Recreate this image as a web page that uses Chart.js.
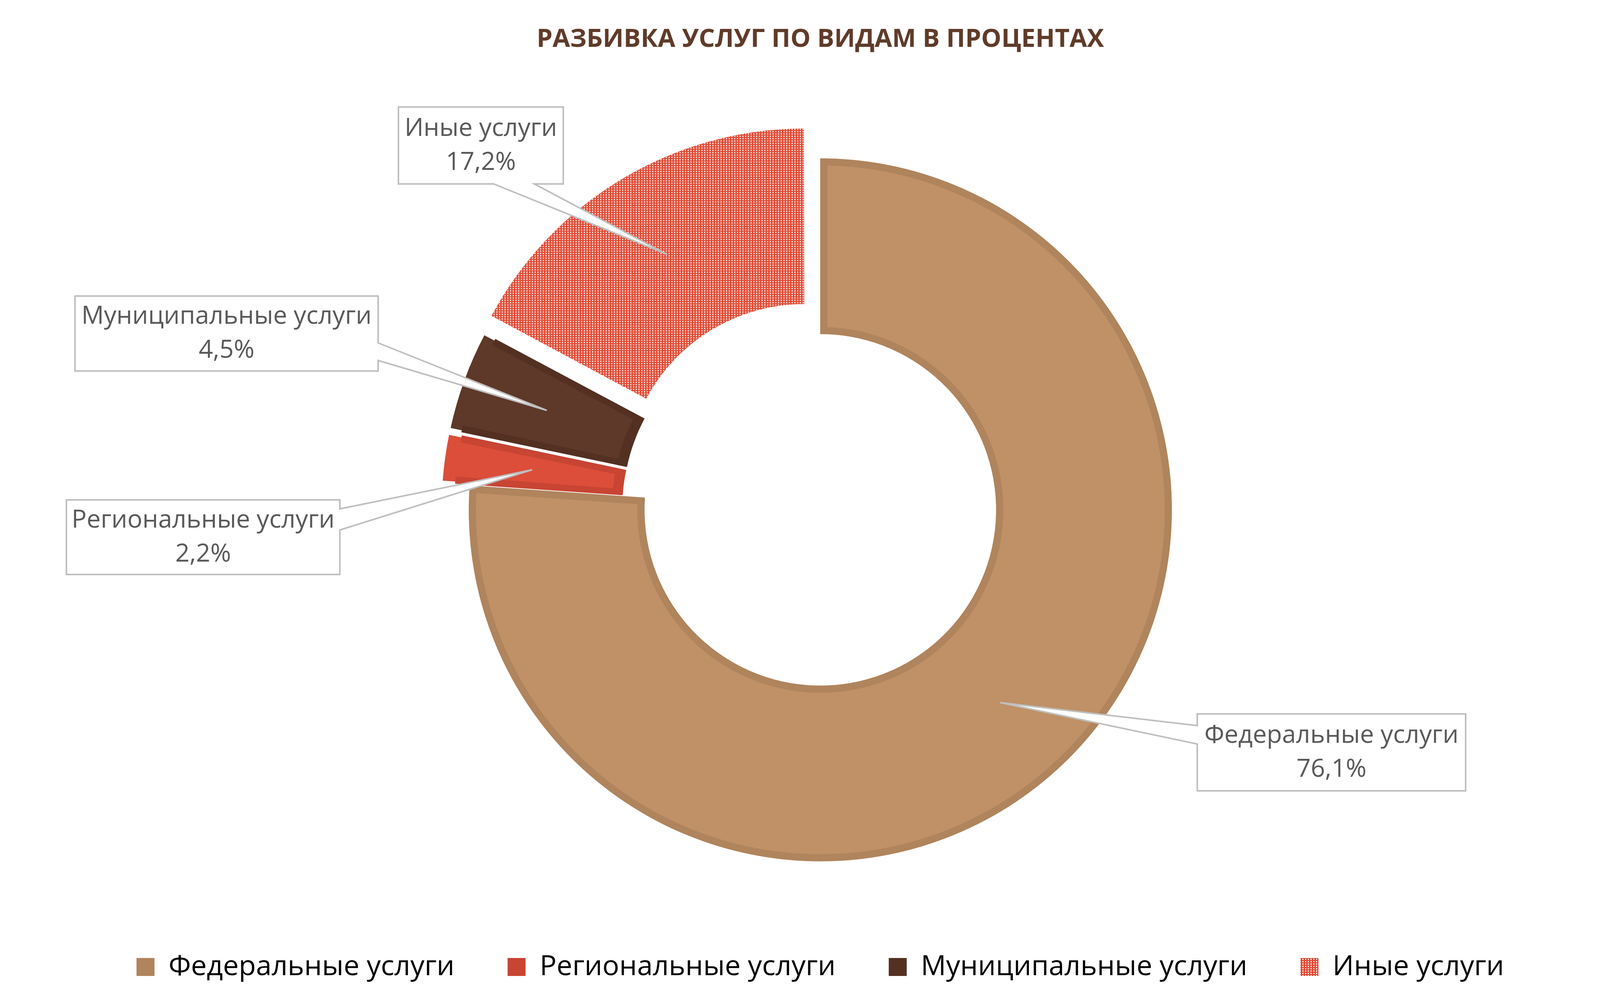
<!DOCTYPE html>
<html lang="ru">
<head>
<meta charset="utf-8">
<title>Разбивка услуг по видам в процентах</title>
<script src="https://cdn.jsdelivr.net/npm/chart.js@4.4.1/dist/chart.umd.min.js"></script>
<style>
  html, body { margin: 0; padding: 0; background: #ffffff; }
  #wrap { width: 4150px; height: 2558px; }
</style>
</head>
<body>
<div id="wrap"><canvas id="servicesChart" width="4150" height="2558"></canvas></div>
<script>
// --- data ---
const categories = ['Федеральные услуги', 'Региональные услуги', 'Муниципальные услуги', 'Иные услуги'];
const shares = [76.1, 2.2, 4.5, 17.2];
const chartTitle = 'РАЗБИВКА УСЛУГ ПО ВИДАМ В ПРОЦЕНТАХ';

// --- styling ---
const fillColors = ['#C09066', '#DC4E3A', '#5E3829', null]; // last one is a pattern
const edgeColors = ['#B0845C', '#C84433', '#533022', '#E24B35'];
const edgeWidths = [18, 13, 13, 0];
const explodePx = [0, 70, 70, 88]; // how far each slice is pulled out, in px
const TEXT = '#595959';
const FONT = "'Open Sans', 'Noto Sans', sans-serif";

// callout boxes (canvas px), side = edge where the pointer leaves the box,
// from/to = distances along that edge, walking the outline clockwise
const callouts = [
  { left: 3065, top: 1828, width: 687, height: 197, side: 'left', from: 120, to: 167 },
  { left: 170, top: 1280, width: 700, height: 191, side: 'right', from: 23, to: 77 },
  { left: 192, top: 758, width: 776, height: 192, side: 'right', from: 120, to: 165 },
  { left: 1020, top: 274, width: 422, height: 197, side: 'bottom', from: 74, to: 178 }
];

function dottedPattern() {
  const tile = document.createElement('canvas');
  tile.width = 7;
  tile.height = 6;
  const c = tile.getContext('2d');
  c.fillStyle = '#E24B35';
  c.fillRect(0, 0, 7, 6);
  c.fillStyle = '#ffffff';
  c.fillRect(2, 1, 3, 3);
  return c.createPattern(tile, 'repeat');
}

const otherPattern = dottedPattern();
fillColors[3] = otherPattern;
const legendFills = [edgeColors[0], edgeColors[1], edgeColors[2], otherPattern];

// Chart.js moves an arc by offset/4 * (2 - sin(circumference)),
// so turn the wanted pixel shift into the option value
const sliceAngles = shares.map(v => v / shares.reduce((a, b) => a + b, 0) * Math.PI * 2);
function shiftFactor(angle) {
  return (2 - Math.sin(Math.min(Math.PI, angle))) / 4;
}
const explodeOpt = explodePx.map((px, i) => px / shiftFactor(sliceAngles[i]));

function fmt(v) {
  return v.toFixed(1).replace('.', ',') + '%';
}

function tipPoint(arc) {
  const p = arc.getProps(['x', 'y', 'startAngle', 'endAngle', 'innerRadius', 'outerRadius'], true);
  const mid = (p.startAngle + p.endAngle) / 2;
  const shift = (arc.options.offset || 0) * shiftFactor(p.endAngle - p.startAngle);
  const r = (p.innerRadius + p.outerRadius) / 2 + shift;
  return { x: p.x + Math.cos(mid) * r, y: p.y + Math.sin(mid) * r };
}

function calloutPath(ctx, box, tip) {
  const l = box.left, t = box.top, r = box.left + box.width, b = box.top + box.height;
  // clockwise: top, right, bottom, left
  const sides = {
    top: [[l, t], [r, t]],
    right: [[r, t], [r, b]],
    bottom: [[r, b], [l, b]],
    left: [[l, b], [l, t]]
  };
  const order = ['top', 'right', 'bottom', 'left'];
  ctx.beginPath();
  ctx.moveTo(l, t);
  order.forEach(name => {
    const [a, e] = sides[name];
    if (name === box.side) {
      const len = Math.hypot(e[0] - a[0], e[1] - a[1]);
      const ux = (e[0] - a[0]) / len, uy = (e[1] - a[1]) / len;
      ctx.lineTo(a[0] + ux * box.from, a[1] + uy * box.from);
      ctx.lineTo(tip.x, tip.y);
      ctx.lineTo(a[0] + ux * box.to, a[1] + uy * box.to);
    }
    ctx.lineTo(e[0], e[1]);
  });
  ctx.closePath();
}

const calloutPlugin = {
  id: 'callouts',
  afterDatasetsDraw(chart) {
    const ctx = chart.ctx;
    const arcs = chart.getDatasetMeta(0).data;
    ctx.save();
    arcs.forEach((arc, i) => {
      const box = callouts[i];
      const tip = tipPoint(arc);
      calloutPath(ctx, box, tip);
      ctx.fillStyle = '#ffffff';
      ctx.fill();
      ctx.lineWidth = 4;
      ctx.lineJoin = 'miter';
      ctx.strokeStyle = '#BFBFBF';
      ctx.stroke();

      const cx = box.left + box.width / 2;
      const cy = box.top + box.height / 2;
      ctx.fillStyle = TEXT;
      ctx.font = '64px ' + FONT;
      ctx.textAlign = 'center';
      ctx.textBaseline = 'middle';
      ctx.fillText(categories[i], cx, cy - 43);
      ctx.fillText(fmt(shares[i]), cx, cy + 44);
    });
    ctx.restore();
  }
};

Chart.defaults.font.family = FONT;
Chart.defaults.color = TEXT;

new Chart(document.getElementById('servicesChart'), {
  type: 'doughnut',
  data: {
    labels: categories,
    datasets: [{
      data: shares,
      backgroundColor: fillColors,
      borderColor: edgeColors,
      borderWidth: edgeWidths,
      borderAlign: 'inner',
      borderJoinStyle: 'miter',
      offset: explodeOpt,
      radius: 900,
      cutout: '50%'
    }]
  },
  options: {
    responsive: false,
    devicePixelRatio: 1,
    animation: false,
    layout: { padding: { left: 50, right: 0, top: 0, bottom: 36 } },
    plugins: {
      title: {
        display: true,
        text: chartTitle,
        color: '#603B2A',
        font: { size: 65, weight: 'bold' },
        padding: { top: 62, bottom: 167 }
      },
      legend: {
        position: 'bottom',
        labels: {
          boxWidth: 46,
          boxHeight: 46,
          padding: 136,
          color: TEXT,
          font: { size: 72 },
          generateLabels(chart) {
            return categories.map((name, i) => ({
              text: name,
              fillStyle: legendFills[i],
              strokeStyle: legendFills[i],
              lineWidth: 0,
              hidden: false,
              index: i
            }));
          }
        }
      },
      tooltip: { enabled: false }
    }
  },
  plugins: [calloutPlugin]
});
</script>
</body>
</html>
